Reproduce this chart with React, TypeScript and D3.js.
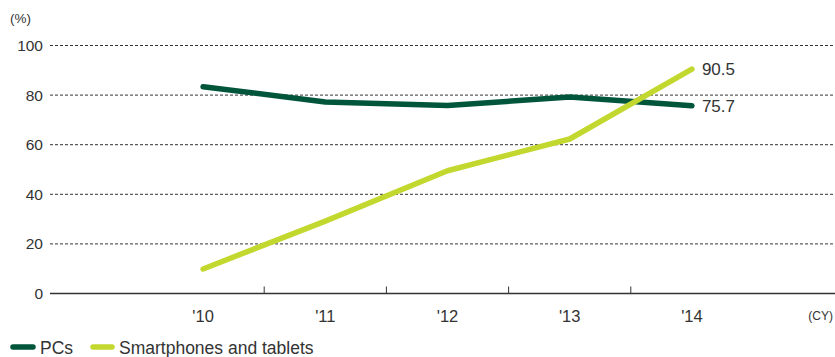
import React from "react";
import * as d3 from "d3";

const years = ["'10", "'11", "'12", "'13", "'14"];
const pcs = [83.4, 77.2, 75.8, 79.2, 75.7];
const smartphones = [9.9, 29.2, 49.5, 62.3, 90.5];
const yTicks = [0, 20, 40, 60, 80, 100];

const seriesList = [
  { name: "PCs", values: pcs, color: "#00553a" },
  { name: "Smartphones and tablets", values: smartphones, color: "#c3d82e" },
];

export default function App() {
  const width = 835;
  const height = 357;
  const plot = { left: 50, right: 835, top: 45.5, bottom: 293.5 };

  const x = d3.scaleBand<string>().domain(years).range([142, 753]);
  const y = d3.scaleLinear().domain([0, 100]).range([plot.bottom, plot.top]);
  const cx = (i: number) => (x(years[i]) as number) + x.bandwidth() / 2;

  const line = d3
    .line<number>()
    .x((_, i) => cx(i))
    .y((d) => y(d));

  const font = "'Liberation Sans', Arial, sans-serif";
  const textColor = "#333";
  const last = years.length - 1;

  return (
    <svg
      width={width}
      height={height}
      style={{ position: "absolute", left: 0, top: 0 }}
      fontFamily={font}
    >
      <text x={10} y={23} fontSize={13.5} fill={textColor}>
        (%)
      </text>

      {yTicks.map((t) => (
        <g key={t}>
          <text
            x={43}
            y={y(t) + 5.5}
            textAnchor="end"
            fontSize={15.5}
            fill={textColor}
          >
            {t}
          </text>
          {t > 0 && (
            <line
              x1={plot.left}
              x2={plot.right}
              y1={y(t)}
              y2={y(t)}
              stroke="#333"
              strokeWidth={1}
              strokeDasharray="3,2"
            />
          )}
        </g>
      ))}

      {/* axis baseline */}
      <line
        x1={plot.left}
        x2={plot.right}
        y1={plot.bottom}
        y2={plot.bottom}
        stroke="#333"
        strokeWidth={1.5}
      />
      {years.slice(1).map((yr) => (
        <line
          key={yr}
          x1={x(yr) as number}
          x2={x(yr) as number}
          y1={plot.bottom - 7}
          y2={plot.bottom}
          stroke="#333"
          strokeWidth={1}
        />
      ))}
      {years.map((yr, i) => (
        <text
          key={yr}
          x={cx(i)}
          y={321.5}
          textAnchor="middle"
          fontSize={16.5}
          fill={textColor}
        >
          {yr}
        </text>
      ))}
      <text x={833} y={320} textAnchor="end" fontSize={12} fill={textColor}>
        (CY)
      </text>

      {seriesList.map((s) => (
        <path
          key={s.name}
          d={line(s.values) as string}
          fill="none"
          stroke={s.color}
          strokeWidth={5.5}
          strokeLinecap="round"
          strokeLinejoin="round"
        />
      ))}

      <text x={cx(last) + 10} y={y(smartphones[last]) + 6} fontSize={17} fill={textColor}>
        {smartphones[last]}
      </text>
      <text x={cx(last) + 10} y={y(pcs[last]) + 6} fontSize={17} fill={textColor}>
        {pcs[last]}
      </text>

      {/* legend */}
      <line x1={13} x2={33} y1={347} y2={347} stroke={seriesList[0].color} strokeWidth={5.5} strokeLinecap="round" />
      <text x={40} y={353.5} fontSize={17.5} fill={textColor}>
        {seriesList[0].name}
      </text>
      <line x1={93} x2={112} y1={347} y2={347} stroke={seriesList[1].color} strokeWidth={5.5} strokeLinecap="round" />
      <text x={119} y={353.5} fontSize={17.5} fill={textColor}>
        {seriesList[1].name}
      </text>
    </svg>
  );
}
